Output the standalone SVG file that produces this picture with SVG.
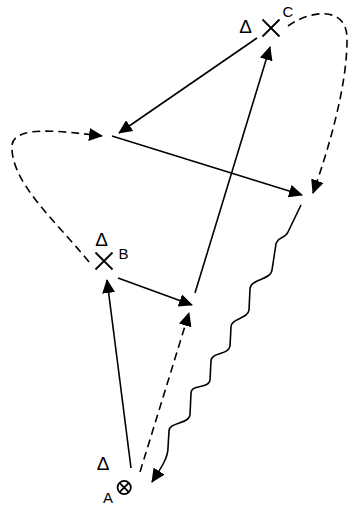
<svg xmlns="http://www.w3.org/2000/svg" width="349" height="506" viewBox="0 0 349 506">
<style>
.ln{fill:none;stroke:#000;stroke-width:1.6}
.ds{stroke-dasharray:8,5}
.sym{fill:none;stroke:#000;stroke-width:1.8}
.lbl{font-family:"Liberation Sans",Arial,sans-serif;font-size:15px;fill:#000}
.tri{font-family:"Liberation Sans",Arial,sans-serif;font-size:19px;fill:#000;text-anchor:middle}
</style>
<defs>
<marker id="ah" markerUnits="userSpaceOnUse" viewBox="0 0 14 13" refX="13" refY="6.5" markerWidth="14" markerHeight="13" orient="auto"><path d="M0,0L14,6.5L0,13z" fill="#000"/></marker>
</defs>
<rect width="349" height="506" fill="#fff"/>
<g id="nodeC">
<text class="tri" x="245.5" y="33">Δ</text>
<path class="sym" d="M262.5,19.5L279.5,36.5M279.5,19.5L262.5,36.5"/>
<text class="lbl" x="282.5" y="17">C</text>
</g>
<g id="nodeB">
<text class="tri" x="101.5" y="245.5">Δ</text>
<path class="sym" d="M95.5,252.5L112.5,269.5M112.5,252.5L95.5,269.5"/>
<text class="lbl" x="118.5" y="258.5">B</text>
</g>
<g id="nodeA">
<text class="tri" x="103" y="469.5">Δ</text>
<circle class="sym" cx="124.2" cy="487.5" r="6.6"/>
<path class="sym" d="M119.5,482.8L128.9,492.2M128.9,482.8L119.5,492.2"/>
<text class="lbl" x="103" y="503">A</text>
</g>
<g id="connectors">
<path class="ln" d="M131,468L107,280" marker-end="url(#ah)"/>
<path class="ln" d="M118,278L192,305" marker-end="url(#ah)"/>
<path class="ln" d="M195,293L270,47" marker-end="url(#ah)"/>
<path class="ln" d="M257,38L119,133" marker-end="url(#ah)"/>
<path class="ln" d="M112,136L302,195" marker-end="url(#ah)"/>
<path class="ln ds" d="M288,26C310,10 348,5 347,40C347,85 330,145 313,193" marker-end="url(#ah)"/>
<path class="ln ds" d="M89,262C55,220 10,182 12,145C15,125 60,131 102,136" marker-end="url(#ah)"/>
<path class="ln ds" d="M140,472L189,313" marker-end="url(#ah)"/>
<path class="ln" d="M301,205L288,232C285,239 278,236 276,244L272,270C271,280 250,279 250,289L249,310C248,319 231,318 231,327L230,346C229,355 211,352 211,361L210,380C209,389 191,384 191,393L190,415C189,424 169,422 169,431L168,448C168,458 161,468 152,482" marker-end="url(#ah)"/>
</g>
</svg>
